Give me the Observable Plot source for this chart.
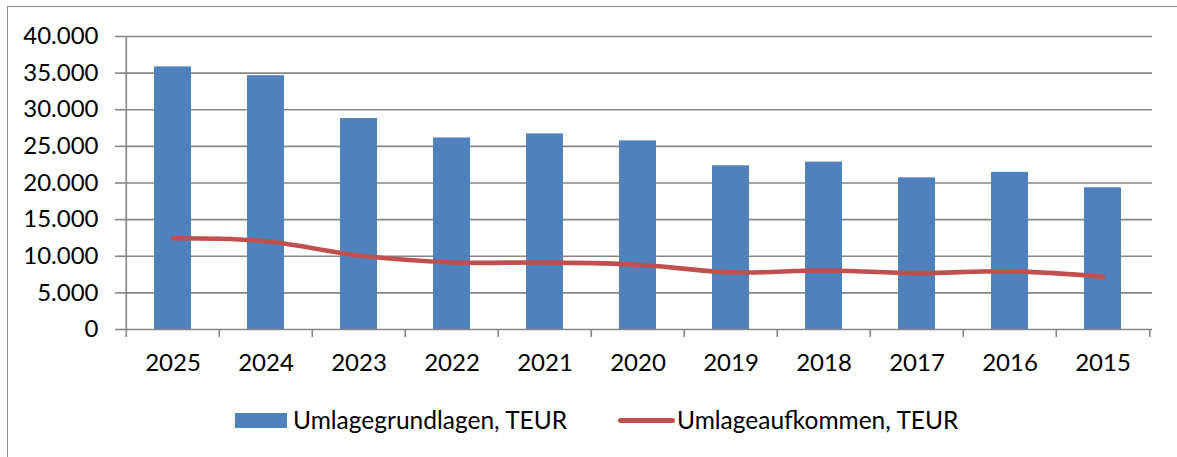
<!DOCTYPE html>
<html>
<head>
<meta charset="utf-8">
<script src="https://cdn.jsdelivr.net/npm/d3@7"></script>
<script src="https://cdn.jsdelivr.net/npm/@observablehq/plot@0.6"></script>
<style>
  html, body { margin: 0; padding: 0; background: #fff; }
  body { position: relative; width: 1177px; height: 457px; overflow: hidden; font-family: Lato, "Open Sans", sans-serif; }
  #frame { position: absolute; left: 7px; top: 6px; width: 1180px; height: 460px; border-left: 1px solid #8a8a8a; border-top: 1px solid #8a8a8a; box-sizing: border-box; z-index: 2; pointer-events: none; }
  #chart { position: absolute; left: 0; top: 0; z-index: 1; }
  .leg { position: absolute; font-size: 24.5px; color: #000; line-height: 1; white-space: nowrap; }
  .sw { position: absolute; }
</style>
</head>
<body>
<div id="chart"></div>
<div id="frame"></div>
<div class="sw" id="sw1" style="left:235px; top:413px; width:52px; height:15px;"></div>
<div class="leg" id="lg1" style="left:293px; top:408px;"></div>
<div class="sw" id="sw2" style="left:618px; top:418px; width:57px; height:5px; border-radius:3px;"></div>
<div class="leg" id="lg2" style="left:677px; top:408px;"></div>
<script>
const years = ["2025","2024","2023","2022","2021","2020","2019","2018","2017","2016","2015"];
const grundlagen = [35850, 34650, 28800, 26150, 26700, 25750, 22350, 22850, 20700, 21450, 19350];
const aufkommen = [12450, 12050, 10100, 9150, 9150, 8850, 7800, 8050, 7700, 7950, 7200];
const yTicks = [0, 5000, 10000, 15000, 20000, 25000, 30000, 35000, 40000];
const seriesNames = ["Umlagegrundlagen, TEUR", "Umlageaufkommen, TEUR"];
const colors = ["#4F81BD", "#C0504D"];

const rows = years.map((y, i) => ({year: y, g: grundlagen[i], a: aufkommen[i]}));
const de = d3.formatLocale({decimal: ",", thousands: ".", grouping: [3], currency: ["", " €"]});
const fmt = de.format(",d");

const W = 1177, H = 385, mL = 124, mR = 25, mT = 36, mB = 56;
const step = (W - mL - mR) / years.length;
const grid = "#868686";
const tickBelow = 1100; // data units below zero for tick marks

const chart = Plot.plot({
  width: W, height: H,
  marginLeft: mL, marginRight: mR, marginTop: mT, marginBottom: mB,
  style: {fontFamily: "Lato, 'Open Sans', sans-serif", fontSize: "24px", color: "#000", background: "transparent", overflow: "visible"},
  x: {type: "band", domain: years, paddingInner: 0.6, paddingOuter: 0.3, align: 0.5, label: null},
  y: {domain: [0, 40000], label: null},
  marks: [
    Plot.ruleY(yTicks.filter(d => d > 0), {stroke: grid, strokeWidth: 1.6, strokeOpacity: 1}),
    Plot.barY(rows, {x: "year", y: "g", fill: colors[0]}),
    Plot.ruleY([0], {stroke: grid, strokeWidth: 1.6, strokeOpacity: 1}),
    Plot.ruleX(years, {x: d => d, dx: -step / 2, y1: -tickBelow, y2: (d, i) => i === 0 ? 40000 : 0, stroke: grid, strokeWidth: 1.6, strokeOpacity: 1}),
    Plot.ruleX([years[years.length - 1]], {x: d => d, dx: step / 2, y1: -tickBelow, y2: 0, stroke: grid, strokeWidth: 1.6, strokeOpacity: 1}),
    Plot.line(rows, {x: "year", y: "a", stroke: colors[1], strokeWidth: 4.6, curve: "catmull-rom", strokeLinecap: "round", strokeLinejoin: "round"}),
    Plot.axisY(yTicks, {tickSize: 9, tickPadding: 17, tickFormat: fmt, stroke: grid, strokeWidth: 1.6, strokeOpacity: 1, fill: "#000"}),
    Plot.axisX({tickSize: 0, tickPadding: 24, fill: "#000"})
  ]
});
document.getElementById("chart").appendChild(chart);

document.getElementById("sw1").style.background = colors[0];
document.getElementById("sw2").style.background = colors[1];
document.getElementById("lg1").textContent = seriesNames[0];
document.getElementById("lg2").textContent = seriesNames[1];
</script>
</body>
</html>
